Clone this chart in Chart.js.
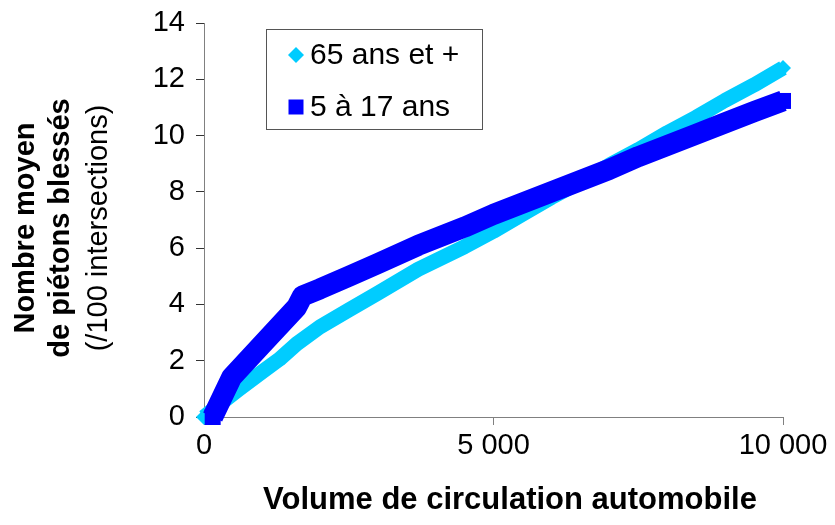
<!DOCTYPE html>
<html>
<head>
<meta charset="utf-8">
<script src="https://cdn.jsdelivr.net/npm/chart.js@4.4.1/dist/chart.umd.min.js"></script>
<style>
  html, body { margin: 0; padding: 0; background: #fff; }
</style>
</head>
<body>
<canvas id="chart" width="835" height="525"></canvas>
<script>
const FONT = "'Liberation Sans', Arial, sans-serif";

const seriesLabels = ["65 ans et +", "5 à 17 ans"];
const seriesColors = ["#00CCFF", "#0000FF"];

// 65 ans et +
const volume65 = [0, 300, 600, 1000, 1300, 1600, 2000, 2500, 3000, 3700, 4500, 5000, 5500, 6000, 6500, 7000, 7500, 8000, 8500, 9000, 9500, 10000];
const blesses65 = [0, 0.5, 0.98, 1.6, 2.05, 2.6, 3.2, 3.8, 4.4, 5.25, 6.05, 6.6, 7.2, 7.8, 8.35, 8.95, 9.5, 10.1, 10.65, 11.25, 11.8, 12.4];

// 5 à 17 ans
const volume517 = [150, 480, 1000, 1600, 1700, 2000, 2500, 3000, 3700, 4500, 5000, 5500, 6000, 6500, 7000, 7500, 8000, 8500, 9000, 9500, 10000];
const blesses517 = [0, 1.42, 2.57, 3.9, 4.3, 4.55, 5.0, 5.45, 6.1, 6.75, 7.2, 7.6, 8.0, 8.4, 8.8, 9.25, 9.65, 10.05, 10.45, 10.85, 11.23];

const xTicks = [0, 5000, 10000];
const yTicks = [0, 2, 4, 6, 8, 10, 12, 14];
const xTitle = "Volume de circulation automobile";
const yTitleLines = ["Nombre moyen", "de piétons blessés", "(/100 intersections)"];

function toPoints(xs, ys) {
  return xs.map((x, i) => ({ x, y: ys[i] }));
}

function fmtThousands(v) {
  return String(v).replace(/\B(?=(\d{3})+(?!\d))/g, " ");
}

const endsOnly = (r) => (ctx) =>
  ctx.dataIndex === 0 || ctx.dataIndex === ctx.dataset.data.length - 1 ? r : 0;

// axis titles (y title mixes bold and normal) and the boxed legend
const extras = {
  id: "extras",
  afterDraw(chart) {
    const { ctx } = chart;
    ctx.save();
    ctx.fillStyle = "#000";
    ctx.textAlign = "center";
    ctx.textBaseline = "middle";
    const cols = [26, 61, 99];
    yTitleLines.forEach((line, i) => {
      ctx.save();
      ctx.translate(cols[i], 228);
      ctx.rotate(-Math.PI / 2);
      ctx.font = (i < 2 ? "bold " : "") + "29px " + FONT;
      ctx.fillText(line, 0, 0);
      ctx.restore();
    });

    ctx.font = "bold 31px " + FONT;
    ctx.fillText(xTitle, 510, 500);

    const bx = 266;
    const by = 29;
    ctx.strokeStyle = "#555";
    ctx.lineWidth = 1;
    ctx.strokeRect(bx + 0.5, by + 0.5, 216, 100);
    ctx.font = "30px " + FONT;
    ctx.textAlign = "left";
    chart.data.datasets.forEach((ds, i) => {
      const cy = by + 26 + i * 52;
      const mx = bx + 30;
      ctx.fillStyle = ds.borderColor;
      ctx.beginPath();
      if (i === 0) {
        ctx.moveTo(mx, cy - 8);
        ctx.lineTo(mx + 8, cy);
        ctx.lineTo(mx, cy + 8);
        ctx.lineTo(mx - 8, cy);
        ctx.closePath();
      } else {
        ctx.rect(mx - 7.5, cy - 7.5, 15, 15);
      }
      ctx.fill();
      ctx.fillStyle = "#000";
      ctx.fillText(ds.label, bx + 44, cy + 1);
    });
    ctx.restore();
  },
};

new Chart(document.getElementById("chart"), {
  type: "line",
  data: {
    datasets: [
      {
        label: seriesLabels[0],
        data: toPoints(volume65, blesses65),
        borderColor: seriesColors[0],
        backgroundColor: seriesColors[0],
        borderWidth: 15,
        borderJoinStyle: "round",
        pointStyle: "rectRot",
        pointRadius: endsOnly(8),
        pointBorderWidth: 0,
        order: 2,
        clip: false,
      },
      {
        label: seriesLabels[1],
        data: toPoints(volume517, blesses517),
        borderColor: seriesColors[1],
        backgroundColor: seriesColors[1],
        borderWidth: 21,
        borderJoinStyle: "round",
        pointStyle: "rect",
        pointRadius: endsOnly(11.3),
        pointBorderWidth: 0,
        order: 1,
        clip: false,
      },
    ],
  },
  options: {
    responsive: false,
    animation: false,
    events: [],
    layout: { padding: { top: 23, right: 52, left: 0, bottom: 0 } },
    plugins: { legend: { display: false }, tooltip: { enabled: false } },
    scales: {
      x: {
        type: "linear",
        min: 0,
        max: 10000,
        afterBuildTicks: (scale) => { scale.ticks = xTicks.map((v) => ({ value: v })); },
        afterFit: (scale) => { scale.height = 108; },
        border: { color: "#808080", width: 1 },
        grid: { drawOnChartArea: false, drawTicks: true, tickLength: 8, color: "#808080" },
        ticks: {
          color: "#000",
          font: { family: FONT, size: 29 },
          padding: 4,
          maxRotation: 0,
          callback: (v) => fmtThousands(v),
        },
      },
      y: {
        min: 0,
        max: 14,
        afterBuildTicks: (scale) => { scale.ticks = yTicks.map((v) => ({ value: v })); },
        afterFit: (scale) => {
          scale.width = 204;
          scale.paddingTop = 0;
          scale.paddingBottom = 0;
        },
        border: { color: "#808080", width: 1 },
        grid: { drawOnChartArea: false, drawTicks: true, tickLength: 8, color: "#808080", tickColor: "#333" },
        ticks: {
          color: "#000",
          font: { family: FONT, size: 29 },
          padding: 11,
        },
      },
    },
  },
  plugins: [extras],
});
</script>
</body>
</html>
